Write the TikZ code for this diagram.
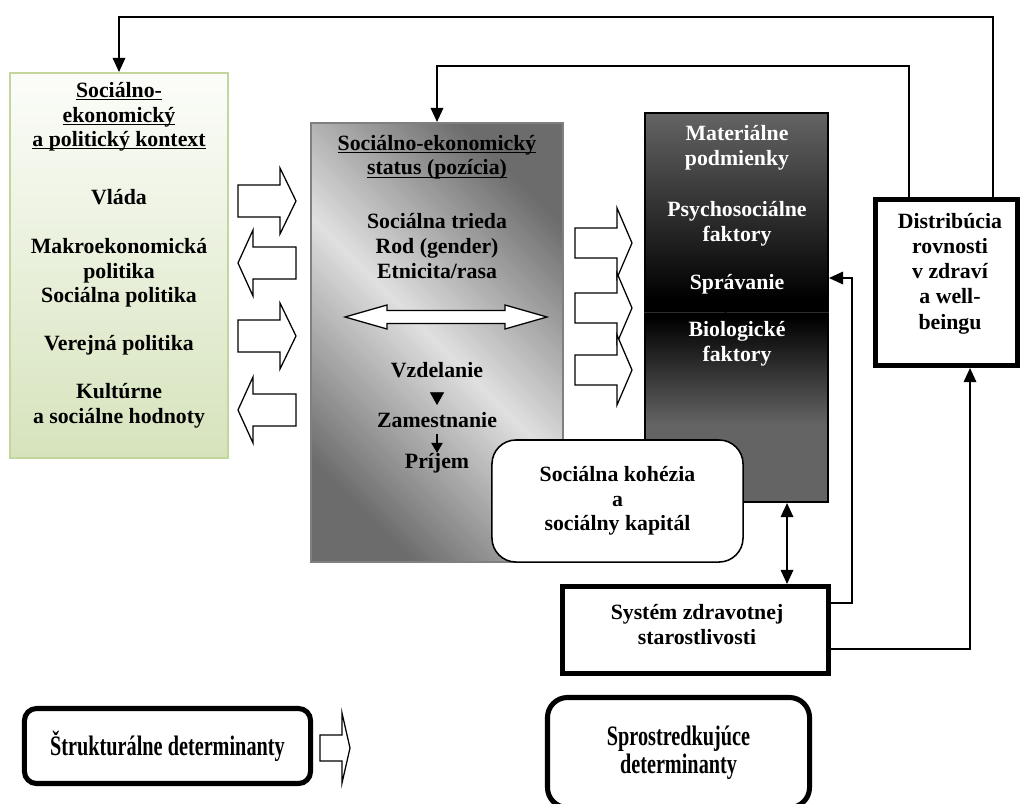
\documentclass[tikz,border=0pt]{standalone}
\usepackage{fontspec}
\setmainfont{Liberation Serif}
\newfontfamily\detfont[FakeStretch=0.72]{Liberation Serif}
\usetikzlibrary{positioning,arrows.meta}
\usepackage{xcolor}
\definecolor{ctxgreen}{RGB}{214,227,188}
\definecolor{ctxline}{RGB}{195,214,155}
\definecolor{sesdark}{RGB}{108,108,108}
\definecolor{seslight}{RGB}{224,224,224}
\definecolor{medgray}{RGB}{100,100,100}
\pgfdeclareverticalshading{medshade}{100bp}{%
  color(0bp)=(medgray); color(25bp)=(medgray); color(35bp)=(medgray);
  color(48.8bp)=(black); color(51bp)=(black); color(75bp)=(medgray); color(100bp)=(medgray)}
\newcommand\ulin[1]{\underline{\smash{#1}}}
\tikzset{
  dtxt/.style={
    font=\fontsize{15.5}{17.5}\selectfont\bfseries,
    align=center,
    inner sep=0pt
  },
  wtxt/.style={
    dtxt,
    text=white
  },
  ctxbox/.style={
    rectangle,
    draw=ctxline,
    line width=1.4pt,
    top color=ctxgreen!8,
    bottom color=ctxgreen,
    minimum width=5.45cm,
    minimum height=9.625cm
  },
  sesbox/.style={
    rectangle,
    draw=gray,
    line width=1.4pt,
    top color=sesdark,
    bottom color=sesdark,
    middle color=seslight,
    shading angle=-45,
    minimum width=6.3cm,
    minimum height=10.975cm
  },
  medbox/.style={
    rectangle,
    draw=black,
    line width=1.4pt,
    shading=medshade,
    minimum width=4.575cm,
    minimum height=9.725cm
  },
  kohbox/.style={
    rectangle,
    draw=black,
    line width=1.1pt,
    rounded corners=0.6cm,
    fill=white,
    dtxt,
    minimum width=6.275cm,
    minimum height=3.05cm
  },
  heavybox/.style={
    rectangle,
    draw=black,
    line width=3.6pt,
    fill=white
  },
  detbox/.style={
    heavybox,
    align=center,
    font=\detfont\fontsize{20}{20}\selectfont\bfseries
  },
  blockarrow/.style={
    draw=black,
    line width=0.9pt,
    fill=white
  },
  loopline/.style={
    draw=black,
    line width=1pt
  },
  tip/.style={
    -{Triangle[length=10pt,width=9pt]}
  },
  bitip/.style={
    {Triangle[length=10pt,width=9pt]}-{Triangle[length=10pt,width=9pt]}
  }
}

\begin{document}
\begin{tikzpicture}[x=0.025cm, y=-0.025cm]
    \useasboundingbox (0,0) rectangle (1024,803);

    % structural determinants
    \node (ctx) [ctxbox] at (119,265.5) {};
    \node (ctxhead) [dtxt] at (119,123.5) {\ulin{Sociálno-}\\\ulin{ekonomický}\\\ulin{a politický kontext}};
    \node (vlada) [dtxt] at (119,197) {Vláda};
    \node (makro) [dtxt] at (119,273) {Makroekonomická\\politika\\Sociálna politika};
    \node (verejna) [dtxt] at (119,345) {Verejná politika};
    \node (kultura) [dtxt] at (119,405.5) {Kultúrne\\a sociálne hodnoty};

    \node (ses) [sesbox] at (437,342.5) {};
    \node (seshead) [dtxt] at (437,164) {\ulin{Sociálno-ekonomický}\\\ulin{status (pozícia)}};
    \node (sesdims) [dtxt] at (437,246) {Sociálna trieda\\Rod (gender)\\Etnicita/rasa};
    \node (vzdel) [dtxt] at (437,370) {Vzdelanie};
    \node (zamest) [dtxt] at (437,420) {Zamestnanie};
    \node (prijem) [dtxt] at (437,463) {Príjem};
    \draw[-{Triangle[length=9pt,width=10pt]}, shorten <=11pt, shorten >=5pt] (vzdel) -- (zamest);
    \draw[-{Triangle[length=7pt,width=8pt]}, line width=0.8pt, shorten <=4pt] (zamest) -- (prijem);
    \draw[blockarrow] (345,317) -- (387,305) -- (387,310.5) -- (505,310.5) -- (505,305) -- (547,317)
        -- (505,329) -- (505,323.5) -- (387,323.5) -- (387,329) -- cycle;

    % block arrows
    \foreach \yc in {201,336}
      \draw[blockarrow] (238,\yc-16) -- (280,\yc-16) -- (280,\yc-33) -- (296,\yc)
          -- (280,\yc+33) -- (280,\yc+16) -- (238,\yc+16) -- cycle;
    \foreach \yc in {263,410}
      \draw[blockarrow] (296,\yc-16) -- (253,\yc-16) -- (253,\yc-33) -- (238,\yc)
          -- (253,\yc+33) -- (253,\yc+16) -- (296,\yc+16) -- cycle;
    \foreach \yc in {243,308,370}
      \draw[blockarrow] (575,\yc-15) -- (617,\yc-15) -- (617,\yc-35) -- (632,\yc)
          -- (617,\yc+35) -- (617,\yc+15) -- (575,\yc+15) -- cycle;

    % intermediary determinants
    \node (med) [medbox] at (736.5,307.5) {};
    \draw[gray!35!black, line width=0.6pt] (med.west |- 0,312) -- (med.east |- 0,312);
    \draw[black, line width=0.5pt] (697,297) -- (767,335);
    \node (mater) [wtxt] at (737,148) {Materiálne\\podmienky};
    \node (psycho) [wtxt] at (737,224) {Psychosociálne\\faktory};
    \node (sprav) [wtxt] at (737,284) {Správanie};
    \node (bio) [wtxt] at (737,344) {Biologické\\faktory};

    \node (koh) [kohbox] at (617.5,501) {Sociálna kohézia\\a\\sociálny kapitál};

    \node (sys) [heavybox, minimum width=6.65cm, minimum height=2.175cm] at (695.5,630) {};
    \node (systxt) [dtxt] at (697,624.5) {Systém zdravotnej\\starostlivosti};
    \node (dist) [heavybox, minimum width=3.55cm, minimum height=4.15cm] at (946.5,282.5) {};
    \node (disttxt) [dtxt, font=\fontsize{15.5}{18}\selectfont\bfseries] at (950,273.5) {Distribúcia\\rovnosti\\v zdraví\\a well-\\beingu};

    % feedback loops
    \coordinate (fb) at (852,278);
    \draw[loopline, tip] ([xshift=1.1625cm]dist.north) |- (ctx.north |- 0,17) -- (ctx.north);
    \draw[loopline, tip] ([xshift=-0.9375cm]dist.north) |- (ses.north |- 0,66) -- (ses.north);
    \draw[loopline, tip] ([yshift=0.675cm]sys.east) -| (fb) -- (med.east |- fb);
    \draw[loopline, tip] ([yshift=-0.475cm]sys.east) -| ([xshift=0.5875cm]dist.south);
    \draw[loopline, bitip] ([xshift=1.2625cm]med.south) -- ([xshift=1.2625cm]med.south |- sys.north);

    % legend
    \node (strukt) [detbox, rounded corners=0.3cm, minimum width=7.15cm, minimum height=1.875cm] at (167.5,746) {Štrukturálne determinanty};
    \node (spros) [detbox, rounded corners=0.5cm, minimum width=6.55cm, minimum height=2.75cm] at (678.5,752.5) {Sprostredkujúce\\determinanty};
    \draw[blockarrow] (320,735) -- (342,735) -- (342,713) -- (350,748) -- (342,783) -- (342,761) -- (320,761) -- cycle;
\end{tikzpicture}
\end{document}
